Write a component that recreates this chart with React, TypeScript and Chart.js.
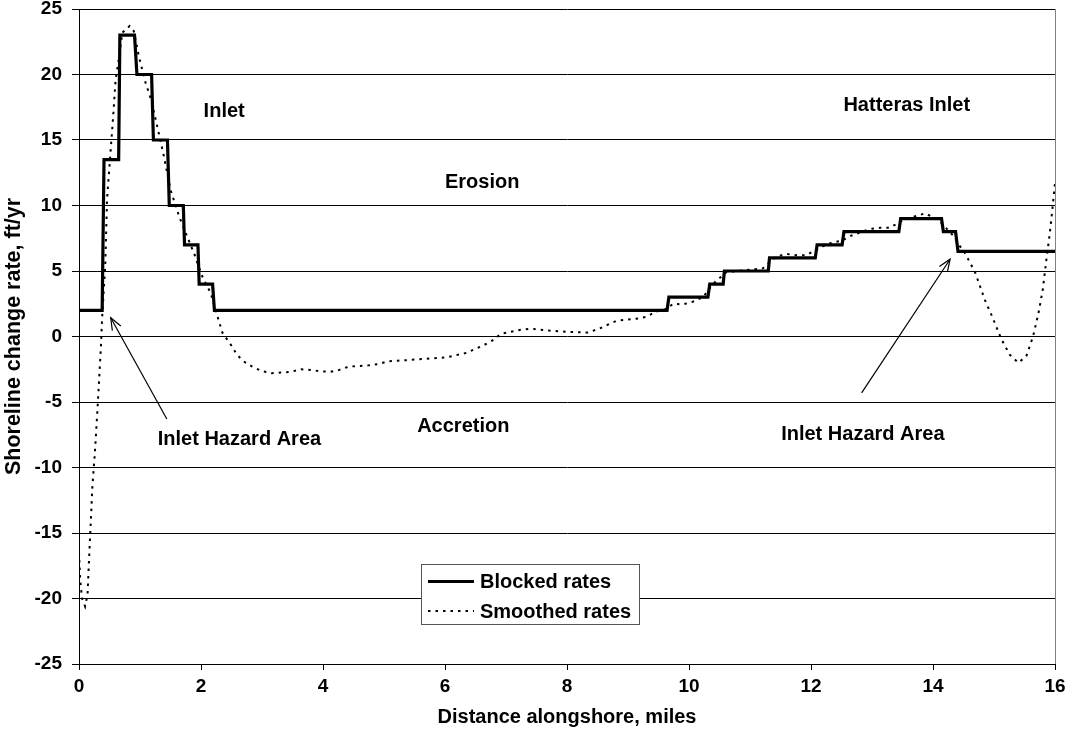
import { useEffect, useRef } from "react";
import { Chart, registerables } from "chart.js";

Chart.register(...registerables);

// ---- Data ----
const blockedX = [
  0, 0.38, 0.41, 0.65, 0.67, 0.91, 0.95, 1.19, 1.22, 1.45, 1.48, 1.71, 1.73, 1.95, 1.97, 2.19, 2.22,
  9.64, 9.67, 10.31, 10.34, 10.56, 10.58, 11.3, 11.32, 12.07, 12.1, 12.51, 12.54, 13.44, 13.47, 14.14,
  14.17, 14.37, 14.41, 16,
];
const blockedY = [
  2, 2, 13.5, 13.5, 23, 23, 20, 20, 15, 15, 10, 10, 7, 7, 4, 4, 2,
  2, 3, 3, 4, 4, 5, 5, 6, 6, 7, 7, 8, 8, 9, 9,
  8, 8, 6.5, 6.5,
];

const smoothX = [
  0, 0.02, 0.05, 0.1, 0.14, 0.16, 0.19, 0.22, 0.26, 0.3, 0.33, 0.36, 0.38, 0.43, 0.46, 0.52, 0.56, 0.6,
  0.65, 0.71, 0.83, 0.9, 0.98, 1.09, 1.18, 1.27, 1.39, 1.5, 1.64, 1.75, 1.89, 2.02, 2.16, 2.27, 2.35,
  2.41, 2.5, 2.59, 2.7, 2.84, 3.0, 3.16, 3.31, 3.47, 3.64, 3.8, 3.95, 4.12, 4.27, 4.42, 4.58, 4.75, 4.91,
  5.06, 5.22, 5.39, 5.69, 6.02, 6.35, 6.62, 6.78, 6.92, 7.22, 7.41, 7.71, 8.04, 8.34, 8.53, 8.81, 9.13,
  9.3, 9.46, 9.63, 9.74, 9.9, 10.06, 10.23, 10.39, 10.61, 10.99, 11.21, 11.43, 11.6, 11.76, 11.92, 12.2,
  12.36, 12.5, 12.66, 12.96, 13.13, 13.29, 13.56, 13.73, 13.87, 14.0, 14.11, 14.33, 14.44, 14.52, 14.69,
  14.85, 14.99, 15.12, 15.26, 15.4, 15.53, 15.64, 15.73, 15.8, 15.86, 15.91, 15.95, 16,
];
const smoothY = [
  -16.5, -18.6, -20.0, -20.6, -19.7, -17.5, -14.5, -11.4, -8.9, -5.8, -3.3, -0.7, 1.5, 5.4, 10.5, 14.3, 16.8, 19.6,
  21.1, 23.2, 23.7, 23.3, 21.4, 19.4, 18.1, 16.3, 13.8, 11.2, 9.2, 7.9, 6.3, 4.6, 3.3, 1.55, 0.3,
  -0.1, -0.7, -1.4, -1.9, -2.3, -2.65, -2.8, -2.75, -2.7, -2.5, -2.55, -2.65, -2.7, -2.55, -2.3, -2.25, -2.2, -2.1,
  -1.9, -1.85, -1.8, -1.7, -1.6, -1.25, -0.7, -0.3, 0.2, 0.5, 0.6, 0.45, 0.35, 0.3, 0.6, 1.2, 1.35,
  1.5, 1.9, 2.1, 2.5, 2.45, 2.65, 3.0, 4.0, 4.9, 5.1, 5.2, 6.1, 6.3, 6.2, 6.2, 6.9,
  7.2, 7.3, 7.7, 8.2, 8.3, 8.3, 9.0, 9.2, 9.4, 9.1, 8.8, 7.7, 6.9, 6.4, 4.9,
  2.8, 1.3, -0.2, -1.4, -2.0, -1.5, 0, 1.8, 3.6, 5.9, 7.7, 9.4, 11.7,
];

const xMin = 0;
const xMax = 16;
const xStep = 2;
const yMin = -25;
const yMax = 25;
const yStep = 5;

const seriesLabels = ["Blocked rates", "Smoothed rates"];
const xTitle = "Distance alongshore, miles";
const yTitle = "Shoreline change rate, ft/yr";

const noteTexts = ["Inlet", "Hatteras Inlet", "Erosion", "Accretion", "Inlet Hazard Area", "Inlet Hazard Area"];
const noteX = [2.38, 13.57, 6.61, 6.3, 2.63, 12.85];
const noteY = [17.2, 17.6, 11.75, -6.9, -7.85, -7.5];

const arrowFromX = [1.44, 12.83];
const arrowFromY = [-6.3, -4.3];
const arrowToX = [0.52, 14.28];
const arrowToY = [1.43, 5.9];

const FONT = "'Liberation Sans', Arial, sans-serif";

const overlayPlugin = {
  id: "overlay",
  afterDatasetsDraw(chart: any) {
    const { ctx, chartArea, scales } = chart;
    const xs = scales.x;
    const ys = scales.y;
    ctx.save();
    // right border of plot area
    ctx.strokeStyle = "#808080";
    ctx.lineWidth = 1;
    ctx.beginPath();
    ctx.moveTo(Math.round(chartArea.right) + 0.5, chartArea.top);
    ctx.lineTo(Math.round(chartArea.right) + 0.5, chartArea.bottom);
    ctx.stroke();

    // annotation texts
    ctx.fillStyle = "#000";
    ctx.font = `bold 20px ${FONT}`;
    ctx.textAlign = "center";
    ctx.textBaseline = "middle";
    noteTexts.forEach((t, i) => {
      ctx.fillText(t, xs.getPixelForValue(noteX[i]), ys.getPixelForValue(noteY[i]));
    });

    // arrows
    ctx.strokeStyle = "#000";
    ctx.lineWidth = 1.2;
    arrowFromX.forEach((_, i) => {
      const x0 = xs.getPixelForValue(arrowFromX[i]);
      const y0 = ys.getPixelForValue(arrowFromY[i]);
      const x1 = xs.getPixelForValue(arrowToX[i]);
      const y1 = ys.getPixelForValue(arrowToY[i]);
      ctx.beginPath();
      ctx.moveTo(x0, y0);
      ctx.lineTo(x1, y1);
      ctx.stroke();
      const ang = Math.atan2(y1 - y0, x1 - x0);
      const hl = 13;
      const ha = 0.38;
      ctx.beginPath();
      ctx.moveTo(x1 - hl * Math.cos(ang - ha), y1 - hl * Math.sin(ang - ha));
      ctx.lineTo(x1, y1);
      ctx.lineTo(x1 - hl * Math.cos(ang + ha), y1 - hl * Math.sin(ang + ha));
      ctx.stroke();
    });

    // legend box
    const bx = 421;
    const by = 564;
    const bw = 218;
    const bh = 60;
    ctx.fillStyle = "#fff";
    ctx.fillRect(bx, by, bw, bh);
    ctx.strokeStyle = "#555";
    ctx.lineWidth = 1;
    ctx.strokeRect(bx + 0.5, by + 0.5, bw, bh);
    const ds = chart.data.datasets;
    const rowsY = [by + 17.5, by + 47];
    ds.forEach((d: any, i: number) => {
      ctx.save();
      ctx.strokeStyle = d.borderColor;
      ctx.lineWidth = d.borderWidth;
      ctx.setLineDash(d.borderDash || []);
      ctx.beginPath();
      ctx.moveTo(bx + 7, rowsY[i]);
      ctx.lineTo(bx + 53, rowsY[i]);
      ctx.stroke();
      ctx.restore();
      ctx.fillStyle = "#000";
      ctx.font = `bold 20px ${FONT}`;
      ctx.textAlign = "left";
      ctx.textBaseline = "middle";
      ctx.fillText(d.label, bx + 59, rowsY[i] + 1);
    });
    ctx.restore();
  },
};

export default function App() {
  const canvasRef = useRef<HTMLCanvasElement | null>(null);

  useEffect(() => {
    const canvas = canvasRef.current;
    if (!canvas) return;
    const blocked = blockedX.map((x, i) => ({ x, y: blockedY[i] }));
    const smooth = smoothX.map((x, i) => ({ x, y: smoothY[i] }));
    const chart = new Chart(canvas, {
      type: "line",
      data: {
        datasets: [
          {
            label: seriesLabels[0],
            data: blocked,
            borderColor: "#000",
            borderWidth: 3.2,
            pointRadius: 0,
            tension: 0,
            fill: false,
            order: 1,
          },
          {
            label: seriesLabels[1],
            data: smooth,
            borderColor: "#000",
            borderWidth: 2,
            borderDash: [2.5, 5],
            pointRadius: 0,
            tension: 0,
            fill: false,
            order: 2,
          },
        ],
      },
      options: {
        responsive: false,
        animation: false,
        devicePixelRatio: 1,
        layout: { padding: { top: 9, right: 12, left: 0, bottom: 0 } },
        plugins: {
          legend: { display: false },
          tooltip: { enabled: false },
          title: { display: false },
        },
        scales: {
          x: {
            type: "linear",
            min: xMin,
            max: xMax,
            ticks: {
              stepSize: xStep,
              color: "#000",
              padding: 5,
              maxRotation: 0,
              font: { family: FONT, size: 19, weight: "bold" },
            },
            grid: {
              drawOnChartArea: false,
              drawTicks: true,
              tickLength: 6,
              color: "#000",
            },
            border: { color: "#000", width: 1 },
            title: {
              display: true,
              text: xTitle,
              color: "#000",
              font: { family: FONT, size: 20, weight: "bold" },
              padding: { top: 0, bottom: 13 },
            },
            afterFit(scale: any) {
              scale.height = 78;
              scale.paddingLeft = 0;
              scale.paddingRight = 0;
            },
          },
          y: {
            type: "linear",
            min: yMin,
            max: yMax,
            ticks: {
              stepSize: yStep,
              color: "#000",
              padding: 10,
              font: { family: FONT, size: 19, weight: "bold" },
            },
            grid: {
              color: "#000",
              lineWidth: 1,
              tickLength: 7,
            },
            border: { color: "#000", width: 1 },
            title: {
              display: true,
              text: yTitle,
              color: "#000",
              font: { family: FONT, size: 21.5, weight: "bold" },
              padding: { top: 1.5, bottom: 0 },
            },
            afterFit(scale: any) {
              scale.width = 79;
              scale.paddingTop = 0;
              scale.paddingBottom = 0;
            },
          },
        },
      },
      plugins: [overlayPlugin],
    });
    return () => chart.destroy();
  }, []);

  return (
    <div style={{ position: "fixed", left: 0, top: 0, width: 1067, height: 742, background: "#fff" }}>
      <canvas ref={canvasRef} width={1067} height={742} style={{ display: "block" }} />
    </div>
  );
}
